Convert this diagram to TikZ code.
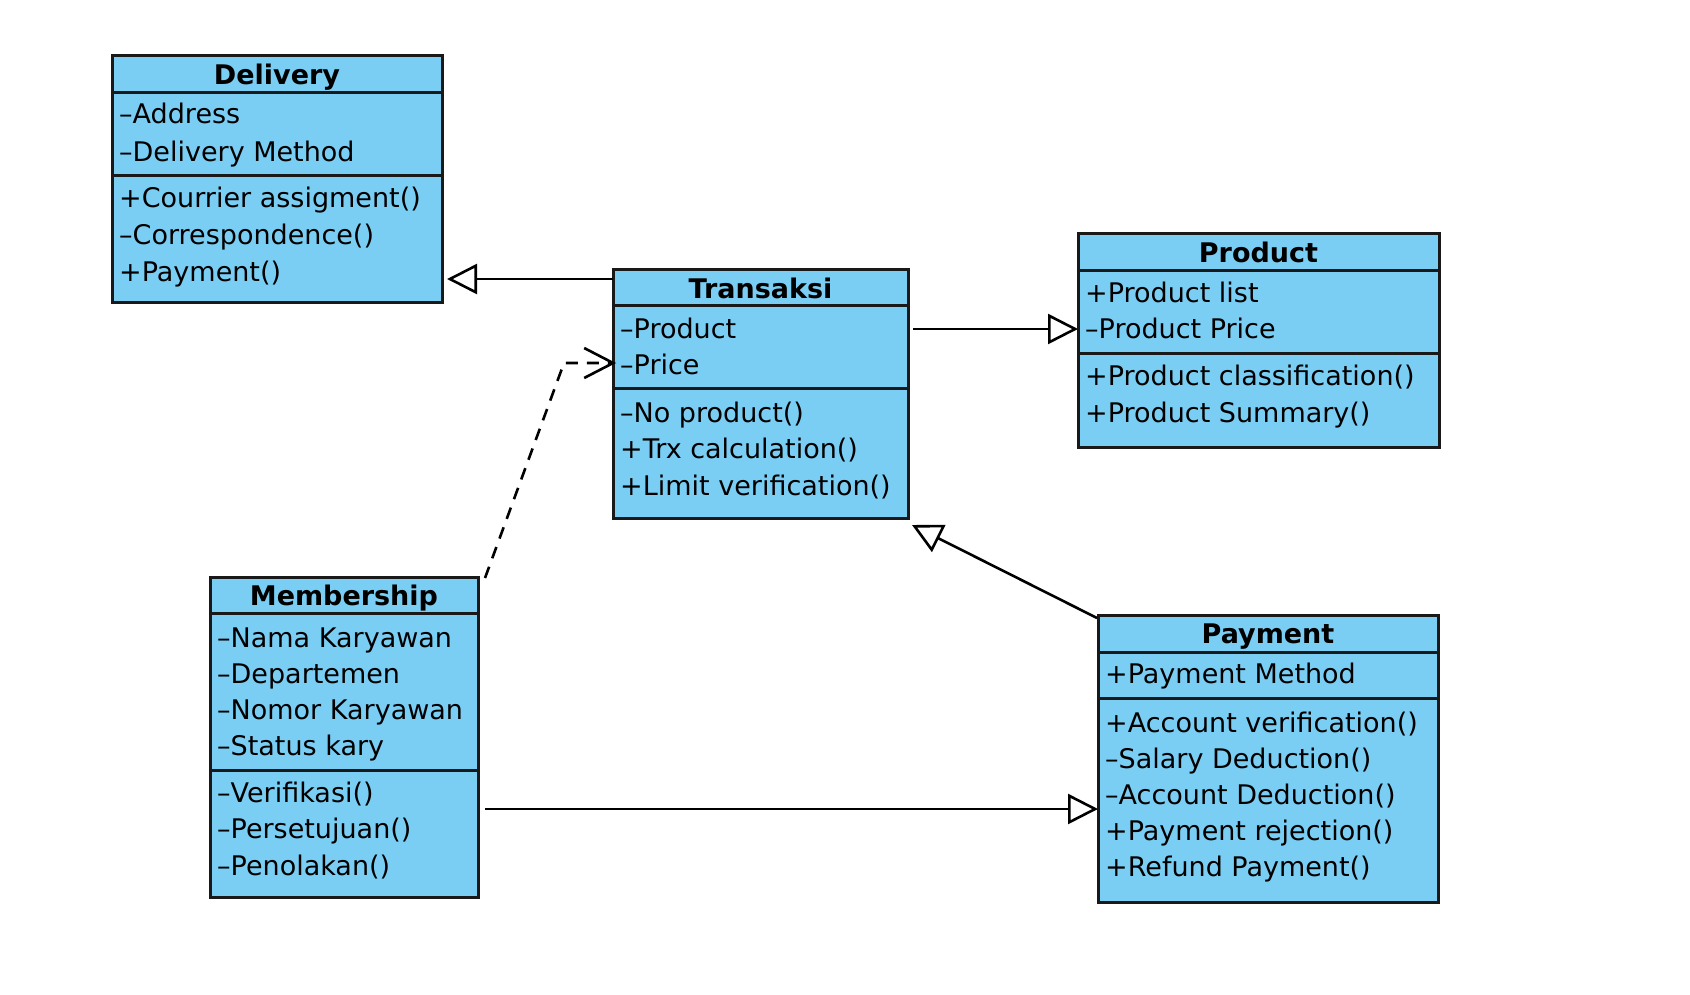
\documentclass[tikz,border=0pt]{standalone}
\usepackage{fontspec}
\setmainfont{DejaVu Sans}
\usetikzlibrary{arrows.meta,calc}
\definecolor{clsblue}{HTML}{7ACEF4}
\begin{document}
\begin{tikzpicture}[x=1pt,y=-1pt,
  every node/.style={font=\fontsize{27}{36}\selectfont},
  cls/.style={draw=black!90, line width=3pt, fill=clsblue, anchor=north west, inner sep=0pt, outer sep=0pt},
  ttl/.style={anchor=base, inner sep=0pt, font=\fontsize{27}{36}\selectfont\bfseries},
  mem/.style={anchor=base west, inner sep=0pt},
  sepline/.style={line width=3pt, draw=black!90},
  inh/.style={line width=2.6pt, -{Triangle[fill=white, length=30pt, width=30pt]}},
  dep/.style={line width=2.6pt, dash pattern=on 12pt off 9pt, -{Straight Barb[length=29pt, width=30pt]}},
]
\fill[white] (0,0) rectangle (1690,994);
\useasboundingbox (0,0) rectangle (1690,994);

% ---------- Delivery ----------
\node[cls, minimum width=330pt, minimum height=247pt] (deliv) at (112,55) {};
\draw[sepline] ($(deliv.north west)+(0,37)$) -- ($(deliv.north east)+(2,37)$);
\draw[sepline] ($(deliv.north west)+(0,120)$) -- ($(deliv.north east)+(2,120)$);
\node[ttl] (dT) at (277,84) {Delivery};
\node[mem] (d1) at (119,123) {–Address};
\node[mem] (d2) at (119,161) {–Delivery Method};
\node[mem] (d3) at (119,207) {+Courrier assigment()};
\node[mem] (d4) at (119,244) {–Correspondence()};
\node[mem] (d5) at (119,281) {+Payment()};

% ---------- Transaksi ----------
\node[cls, minimum width=295pt, minimum height=249pt] (trans) at (613,269) {};
\draw[sepline] ($(trans.north west)+(0,36)$) -- ($(trans.north east)+(0,36)$);
\draw[sepline] ($(trans.north west)+(0,119)$) -- ($(trans.north east)+(0,119)$);
\node[ttl] (tT) at (760.5,298) {Transaksi};
\node[mem] (t1) at (620,338) {–Product};
\node[mem] (t2) at (620,374) {–Price};
\node[mem] (t3) at (620,422) {–No product()};
\node[mem] (t4) at (620,458) {+Trx calculation()};
\node[mem] (t5) at (620,495) {+Limit verification()};

% ---------- Product ----------
\node[cls, minimum width=361pt, minimum height=214pt] (prod) at (1078,233) {};
\draw[sepline] ($(prod.north west)+(0,37)$) -- ($(prod.north east)+(0,37)$);
\draw[sepline] ($(prod.north west)+(0,120)$) -- ($(prod.north east)+(0,120)$);
\node[ttl] (pT) at (1258.5,262) {Product};
\node[mem] (p1) at (1085,302) {+Product list};
\node[mem] (p2) at (1085,338) {–Product Price};
\node[mem] (p3) at (1085,385) {+Product classification()};
\node[mem] (p4) at (1085,422) {+Product Summary()};

% ---------- Membership ----------
\node[cls, minimum width=268pt, minimum height=320pt] (member) at (210,577) {};
\draw[sepline] ($(member.north west)+(0,36)$) -- ($(member.north east)+(0,36)$);
\draw[sepline] ($(member.north west)+(0,193)$) -- ($(member.north east)+(2,193)$);
\node[ttl] (mT) at (344,605) {Membership};
\node[mem] (m1) at (217,647) {–Nama Karyawan};
\node[mem] (m2) at (217,683) {–Departemen};
\node[mem] (m3) at (217,719) {–Nomor Karyawan};
\node[mem] (m4) at (217,755) {–Status kary};
\node[mem] (m5) at (217,802) {–Verifikasi()};
\node[mem] (m6) at (217,838) {–Persetujuan()};
\node[mem] (m7) at (217,875) {–Penolakan()};

% ---------- Payment ----------
\node[cls, minimum width=340pt, minimum height=287pt] (pay) at (1098,615) {};
\draw[sepline] ($(pay.north west)+(0,37)$) -- ($(pay.north east)+(0,37)$);
\draw[sepline] ($(pay.north west)+(0,83)$) -- ($(pay.north east)+(2,83)$);
\node[ttl] (yT) at (1268,643) {Payment};
\node[mem] (y1) at (1105,683) {+Payment Method};
\node[mem] (y2) at (1105,732) {+Account verification()};
\node[mem] (y3) at (1105,768) {–Salary Deduction()};
\node[mem] (y4) at (1105,804) {–Account Deduction()};
\node[mem] (y5) at (1105,840) {+Payment rejection()};
\node[mem] (y6) at (1105,876) {+Refund Payment()};

% ---------- Connectors ----------
\coordinate (a1) at ($(trans.north west)+(0,10)$);
\draw[inh] (a1) -- ($(deliv.east |- a1)+(5,0)$);

\coordinate (a2) at ($(trans.north east)+(5,60)$);
\draw[inh] (a2) -- (prod.west |- a2);

\coordinate (a3) at ($(trans.north west)+(-49,94)$);
\draw[dep] ($(member.north east)+(7,1)$) -- (a3) -- ($(trans.north west)+(3,94)$);

\draw[inh] ($(pay.north west)+(-1,3)$) -- ($(trans.south east)+(4,7)$);

\coordinate (a5) at ($(pay.north west)+(0,194)$);
\draw[inh] ($(member.east |- a5)+(7,0)$) -- (a5);
\end{tikzpicture}
\end{document}
